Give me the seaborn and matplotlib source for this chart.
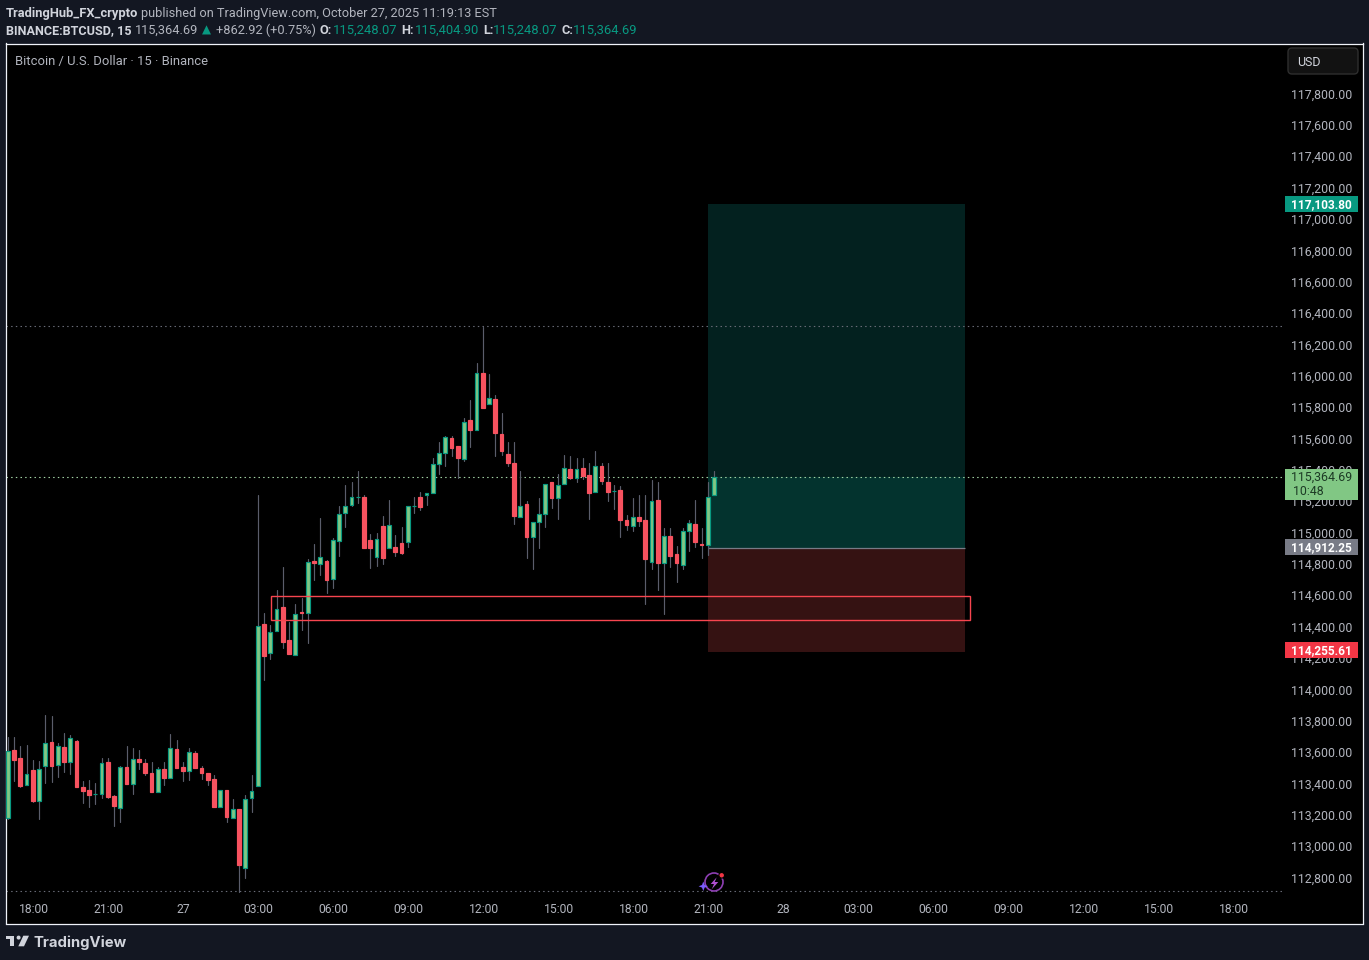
import matplotlib
matplotlib.use("Agg")
import matplotlib.pyplot as plt
import numpy as np
import pandas as pd
import seaborn as sns
from matplotlib.patches import Rectangle, Polygon, Circle, FancyBboxPatch
from matplotlib.transforms import IdentityTransform, ScaledTranslation

# ---- candles, 15 minute bars, first bar is four bars before the 18:00 tick ----
rising = ("GRRGRGGRGRGRRRGGRRGRGRRRGRGRRGRRRRGRGRGGG"[:41]
          + "RGGRRGRGRGRGGGGGRRGRGRRGGRGG"[:27]
          + "GGGRRGRGRGRRRRGRGGGRGGRGRRGRRG"
          + "RRGRRGRGRRGGRRGG")
body_top = [113619,113623,113572,113470,113492,113502,113668,113674,113649,113642,113700,113681,113387,113368,113343,113540,113547,113330,113515,113515,113566,113566,113540,113477,113502,113502,113636,113630,113515,113611,113604,113509,113477,113438,113368,113368,113247,113247,113311,113362,114414,
            114427,114376,114523,114536,114325,114491,114504,114823,114829,114855,114829,114963,115129,115180,115237,115237,115237,114963,114969,115052,115059,114918,114944,115180,115182,115237,115259,
            115448,115518,115620,115614,115563,115716,115728,116028,116028,115869,115862,115639,115512,115454,115180,115193,115078,115129,115320,115333,115314,115422,115416,115416,115422,115378,115435,115435,115333,115276,
            115282,115091,115110,115110,115091,115212,115219,114989,114989,114874,115021,115072,115066,114934,115238,115365]
body_bottom = [113188,113557,113396,113398,113300,113296,113519,113519,113526,113545,113545,113385,113360,113334,113341,113341,113321,113264,113251,113404,113404,113545,113474,113353,113353,113443,113443,113506,113487,113487,113506,113474,113430,113258,113258,113194,113188,112888,112869,113315,113390,
               114225,114240,114380,114310,114234,114227,114495,114495,114814,114808,114706,114712,114955,115133,115184,115235,114910,114910,114852,114846,114910,114884,114878,114948,115178,115171,115248,
               115261,115446,115516,115548,115484,115478,115663,115663,115803,115828,115643,115529,115452,115114,115108,114980,114980,115076,115127,115229,115229,115318,115356,115359,115373,115261,115267,115337,115267,115273,
               115089,115057,115051,115083,114840,114821,114815,114815,114859,114815,114802,115019,114949,114929,114929,115248]
high = [113704,113708,113651,113657,113562,113555,113849,113842,113666,113734,113721,113689,113428,113434,113409,113574,113574,113338,113523,113645,113638,113625,113566,113549,113517,113549,113727,113689,113543,113638,113619,113523,113477,113460,113368,113368,113307,113247,113338,113466,115252,
        114497,114423,114644,114787,114440,114555,114593,114842,114937,115105,114835,114976,115180,115310,115335,115405,115252,115001,115008,115112,115220,114995,115048,115180,115239,115269,115259,
        115488,115584,115628,115628,115563,115743,115852,116088,116322,116018,115884,115775,115590,115590,115405,115208,115078,115233,115320,115333,115384,115507,115495,115488,115488,115456,115527,115456,115450,115310,
        115308,115121,115233,115246,115246,115342,115329,115040,115040,114925,115040,115091,115219,115040,115333,115405]
low = [113180,113428,113389,113398,113294,113185,113415,113421,113453,113485,113472,113385,113287,113262,113281,113319,113315,113141,113166,113404,113345,113504,113462,113353,113353,113402,113443,113506,113428,113434,113506,113440,113402,113258,113258,113166,113188,112720,112809,113230,113390,
       114066,114200,114380,114270,114234,114227,114391,114308,114704,114736,114621,114653,114857,115042,115178,115201,114910,114782,114793,114808,114910,114863,114872,114916,115137,115156,115188,
       115261,115380,115437,115495,115359,115463,115552,115663,115803,115828,115495,115507,115433,115067,115108,114850,114774,114914,115048,115163,115099,115318,115350,115329,115352,115099,115267,115318,115208,115157,
       114978,115023,115017,115049,114553,114774,114640,114487,114787,114691,114774,114895,114915,114844,114864,115248]

# ---- tick labels ----
price_ticks = [112800,113000,113200,113400,113600,113800,114000,114200,114400,114600,114800,115000,115200,115400,115600,115800,116000,116200,116400,116600,116800,117000,117200,117400,117600,117800]
time_labels = ["18:00","21:00","27","03:00","06:00","09:00","12:00","15:00","18:00","21:00","28","03:00","06:00","09:00","12:00","15:00","18:00"]

# ---- drawings ----
target_price = 117103.80
last_price = 115364.69
entry_price = 114912.25
stop_price = 114255.61
high_line = 116324
low_line = 112726
zone_top = 114604
zone_bottom = 114451

W, H = 1369, 960
BG = "#131722"
TXT = "#b2b5be"
UP_FACE, UP_EDGE, DOWN = "#81c784", "#089981", "#f7525f"
WICK = "#5a5d6b"
FONT = ["Roboto", "DejaVu Sans"]

sns.set_theme(style="dark")
plt.rcParams["font.family"] = FONT

fig = plt.figure(figsize=(W / 100, H / 100), dpi=100, facecolor=BG)
ax = fig.add_axes([6.3 / W, 1 - 923.5 / H, 1356.7 / W, 880 / H], facecolor="black")

n = len(rising)
df = pd.DataFrame({"i": np.arange(-4, -4 + n), "top": body_top, "bottom": body_bottom,
                   "high": high, "low": low, "up": [c == "G" for c in rising]})

# zones under the candles
x0, x1 = 108, 149.2
ax.add_patch(Rectangle((x0, last_price), x1 - x0, target_price - last_price, fc="#03211f", ec="none", zorder=1))
ax.add_patch(Rectangle((x0, entry_price), x1 - x0, last_price - entry_price, fc="#03332e", ec="none", zorder=1))
ax.add_patch(Rectangle((x0, stop_price - 8), x1 - x0, entry_price - stop_price + 8, fc="#351212", ec="none", zorder=1))
ax.hlines(entry_price, x0, x1, color="#787b86", lw=0.9, zorder=1.5)

# dotted lines
dots = (0, (1.3, 2.9))
ax.hlines(high_line, -4.24, 199.9, color="#6a6d78", lw=0.8, linestyles=[dots], zorder=1.6)
ax.hlines(low_line, -4.24, 199.9, color="#6a6d78", lw=0.8, linestyles=[dots], zorder=1.6)
ax.hlines(last_price, -4.24, 199.9, color="#a5d6a7", lw=0.8, linestyles=[dots], zorder=1.6)

# wicks via seaborn
wick = df.melt(id_vars="i", value_vars=["high", "low"], value_name="price")
sns.lineplot(data=wick, x="i", y="price", units="i", estimator=None, color=WICK, lw=0.85,
             ax=ax, legend=False, zorder=2)

# bodies
height = np.maximum(df["top"] - df["bottom"], 3)
ups = df["up"].values
ax.bar(df["i"][ups], height[ups], bottom=df["bottom"][ups], width=0.62, color=UP_FACE,
       edgecolor=UP_EDGE, linewidth=0.85, zorder=3)
ax.bar(df["i"][~ups], height[~ups], bottom=df["bottom"][~ups], width=0.62, color=DOWN,
       edgecolor=DOWN, linewidth=0.85, zorder=3)

# zone box
ax.add_patch(Rectangle((38.08, zone_bottom), 149.9 - 38.08, zone_top - zone_bottom, fc="none",
                       ec="#f7454f", lw=1.0, zorder=4))

ax.set_xlim(-4.24, 212.83)
ax.set_ylim(112516, 118128.7)
ax.set_xlabel("")
ax.set_ylabel("")
ax.grid(False)
ax.yaxis.tick_right()
ax.set_yticks(price_ticks)
ax.set_yticklabels([f"{p:,.2f}" for p in price_ticks], ha="right")
ax.set_xticks(np.arange(0, 12 * len(time_labels), 12))
ax.set_xticklabels(time_labels)
ax.tick_params(axis="y", length=0, pad=-7.6, labelsize=8.9, labelcolor=TXT)
ax.tick_params(axis="x", length=0, pad=-14.9, labelsize=8.7, labelcolor=TXT)
shift_up = ScaledTranslation(0, 1.5 / 100, fig.dpi_scale_trans)
for lab in ax.get_yticklabels():
    lab.set_transform(lab.get_transform() + shift_up)
shift_right = ScaledTranslation(0.8 / 100, 0, fig.dpi_scale_trans)
for lab in ax.get_xticklabels():
    lab.set_transform(lab.get_transform() + shift_right)
for s in ax.spines.values():
    s.set_color("#f0f3fa")
    s.set_linewidth(0.9)

# price tags
tx0, tw, tr = 200.35, 11.7, 211.05
def tag(price, fc, tc="white"):
    ax.add_patch(Rectangle((tx0, price - 48), tw, 102, fc=fc, ec="none", zorder=6))
    ax.text(tr, price + 8, f"{price:,.2f}", ha="right", va="center_baseline", color=tc, fontsize=8.6,
            fontweight="bold", zorder=7)
tag(target_price, "#089981")
tag(entry_price, "#787b86")
tag(stop_price, "#f23645")
ax.add_patch(Rectangle((tx0, 115214), tw, 198, fc="#81c784", ec="none", zorder=6))
ax.text(tr, last_price + 8, f"{last_price:,.2f}", ha="right", va="center_baseline", color="#1d3b25", fontsize=8.9, zorder=7)
ax.text(tx0 + 1.3, 115282, "10:48", ha="left", va="center_baseline", color="#1d3b25", fontsize=8.9, zorder=7)

# figure level text and small artwork, in pixels
ID = IdentityTransform()
def ftext(x, y, s, color=TXT, size=9.1, weight="normal", **kw):
    return fig.text(x / W, 1 - y / H, s, color=color, fontsize=size, fontweight=weight,
                    va="center_baseline", ha=kw.pop("ha", "left"), **kw)
def P(pts):
    return [(x, H - y) for x, y in pts]

ftext(6, 12.5, "TradingHub_FX_crypto", color="#d1d4dc", weight="bold", size=9.3)
ftext(141, 12.5, "published on TradingView.com, October 27, 2025 11:19:13 EST", color=TXT, size=9.15)
ftext(6, 29, "BINANCE:BTCUSD, 15", color="#d1d4dc", weight="bold", size=9.1)
ftext(135, 29, "115,364.69", size=9.2)
ftext(202, 29, "▲", color="#089981", size=8.5)
ftext(216, 29, "+862.92 (+0.75%)", size=9.2)
for x, s in [(319, "O:"), (401, "H:"), (483, "L:"), (561, "C:")]:
    ftext(x, 29, s, color="#d1d4dc", weight="bold", size=9.2)
for x, s in [(333, "115,248.07"), (415, "115,404.90"), (493, "115,248.07"), (573, "115,364.69")]:
    ftext(x, 29, s, color="#089981", size=9.4)
ftext(15, 60.5, "Bitcoin / U.S. Dollar · 15 · Binance", color=TXT, size=9.4)

fig.add_artist(FancyBboxPatch((1290, H - 72), 66, 22, boxstyle="round,pad=2,rounding_size=4", fc="#121212",
                              ec="#2e2e2e", lw=1, transform=ID, zorder=6))
ftext(1297, 61.5, "USD", color="#d1d4dc", size=8.9, zorder=7)

# TradingView logo
logo = "#d1d4dc"
fig.add_artist(Polygon(P([(6, 935.7), (14.3, 935.7), (14.3, 946.3), (10, 946.3), (10, 939.2), (6, 939.2)]), fc=logo, ec="none", transform=ID))
fig.add_artist(Circle((18.6, H - 937.6), 2, fc=logo, ec="none", transform=ID))
fig.add_artist(Polygon(P([(23.3, 935.7), (29, 935.7), (24, 946.3), (18.3, 946.3)]), fc=logo, ec="none", transform=ID))
ftext(33, 941, "TradingView", color=logo, size=10.7, weight="bold", family=["Inter", "DejaVu Sans"])

# bolt badge
fig.add_artist(Circle((714, H - 882), 9, fc="none", ec="#8e3fb3", lw=1.2, transform=ID, zorder=6))
fig.add_artist(Polygon(P([(716.7, 877.3), (710.7, 884), (714, 884), (711.7, 889.3), (718.3, 882), (714.7, 882)]), fc="#b04fd0", ec="none", transform=ID, zorder=6))
fig.add_artist(Polygon(P([(703.3, 881.5), (704.6, 885), (708, 886.3), (704.6, 887.6), (703.3, 891), (702, 887.6), (698.6, 886.3), (702, 885)]), fc="#7c5cfc", ec="none", transform=ID, zorder=6))
fig.add_artist(Circle((721.7, H - 875.3), 2.8, fc="#f23645", ec="black", lw=0.8, transform=ID, zorder=7))

fig.savefig("out.png", dpi=100, facecolor=BG)
